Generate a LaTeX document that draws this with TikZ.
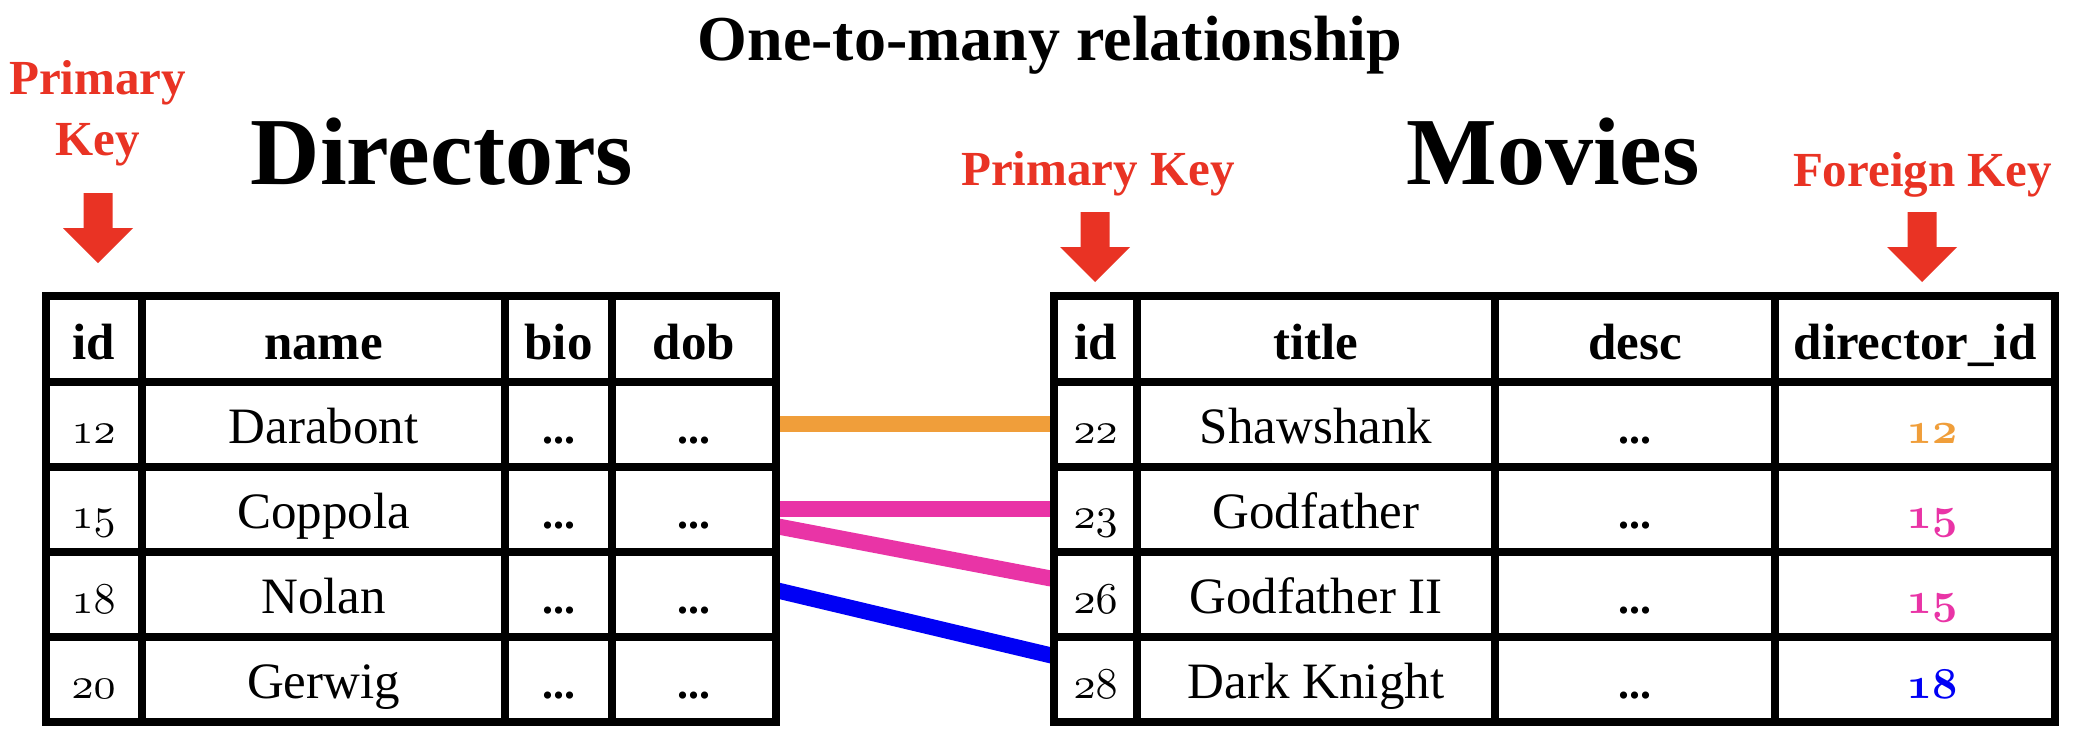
\documentclass[tikz,border=0pt]{standalone}
\usepackage{fontspec}
\setmainfont{Liberation Serif}
\definecolor{keyred}{RGB}{233,51,36}
\definecolor{lnorange}{RGB}{240,158,58}
\definecolor{lnpink}{RGB}{233,52,166}
\definecolor{lnblue}{RGB}{0,0,245}
\DeclareFontFamily{OML}{myosf}{\skewchar\font=127}
\DeclareFontShape{OML}{myosf}{m}{it}{<->cmmi10}{}
\DeclareFontShape{OML}{myosf}{b}{it}{<->cmmib10}{}
\newcommand\myosn[1]{{\usefont{OML}{myosf}{m}{it}#1}}
\newcommand\myosnb[1]{{\usefont{OML}{myosf}{b}{it}#1}}
\tikzset{
  karrow/.pic={\fill[keyred] (-14.5,0) -- (14.5,0) -- (14.5,35) -- (35,35) -- (0,70) -- (-35,35) -- (-14.5,35) -- cycle;}
}
\begin{document}
\begin{tikzpicture}[x=1pt,y=-1pt,
  every node/.style={inner sep=0pt, anchor=base},
  title/.style={font=\fontsize{64}{70}\selectfont\bfseries},
  tname/.style={font=\fontsize{96}{100}\selectfont\bfseries},
  keylbl/.style={font=\fontsize{49}{55}\selectfont\bfseries, text=keyred},
  head/.style={font=\fontsize{51}{56}\selectfont\bfseries},
  cell/.style={font=\fontsize{51}{56}\selectfont},
  num/.style={font=\fontsize{44}{50}\selectfont},
  dotsty/.style={font=\fontsize{44}{50}\selectfont\bfseries},
  gridline/.style={line width=8pt, black},
  link/.style={line width=16pt},
]
\fill[white] (0,0) rectangle (2080,752);
\useasboundingbox (0,0) rectangle (2080,752);

% title and table names
\node[title] (ttl) at (1050,60) {One-to-many relationship};
\node[tname] (dirs) at (442,184) {Directors};
\node[tname] (movs) at (1553,184) {Movies};

% key labels and arrows
\node[keylbl] (pk1a) at (97.5,94) {Primary};
\node[keylbl] (pk1b) at (97.5,155) {Key};
\node[keylbl] (pk2) at (1098,185) {Primary Key};
\node[keylbl] (fkl) at (1922.5,186) {Foreign Key};
\pic at (98,193) {karrow};
\pic at (1095,212) {karrow};
\pic at (1922,212) {karrow};

% connectors
\coordinate (l1) at (775.5,424); \coordinate (r1) at (1053.5,424);
\coordinate (l2) at (775.5,509); \coordinate (r2) at (1053.5,509);
\coordinate (l3) at (775.5,526); \coordinate (r3) at (1053.5,579);
\coordinate (l4) at (775.5,590); \coordinate (r4) at (1053.5,656);
\draw[link, lnorange] (l1) -- (r1);
\draw[link, lnpink] (l2) -- (r2);
\draw[link, lnpink] (l3) -- (r3);
\draw[link, lnblue] (l4) -- (r4);

% left table grid
\draw[gridline] (45.5,296) rectangle (775.5,722);
\foreach \x in {142,505,612} \draw[gridline] (\x,296) -- (\x,722);
\foreach \y in {382,467,552,637} \draw[gridline] (45.5,\y) -- (775.5,\y);
% right table grid
\draw[gridline] (1053.5,296) rectangle (2054.5,722);
\foreach \x in {1137,1495,1775} \draw[gridline] (\x,296) -- (\x,722);
\foreach \y in {382,467,552,637} \draw[gridline] (1053.5,\y) -- (2054.5,\y);

% headers
\node[head] (hdid) at (93.8,359) {id};
\node[head] (hdname) at (323.5,359) {name};
\node[head] (hdbio) at (558.5,359) {bio};
\node[head] (hddob) at (694,359) {dob};
\node[head] (hmid) at (1095.5,359) {id};
\node[head] (hmtitle) at (1316,359) {title};
\node[head] (hmdesc) at (1635,359) {desc};
\node[head] (hmdir) at (1915,359) {director\_id};

% left rows
\foreach \i/\n/\b in {12/Darabont/443, 15/Coppola/528, 18/Nolan/613, 20/Gerwig/698} {
  \node[num] (did\i) at (93.5,\b) {\myosn{\i}};
  \node[cell] (dname\i) at (323.5,\b) {\n};
  \node[dotsty] (dbio\i) at (558.5,\b) {...};
  \node[dotsty] (ddob\i) at (694,\b) {...};
}
% right rows
\foreach \i/\n/\d/\c/\b in {22/Shawshank/12/lnorange/443, 23/Godfather/15/lnpink/528, 26/Godfather II/15/lnpink/613, 28/Dark Knight/18/lnblue/698} {
  \node[num] (mid\i) at (1095.5,\b) {\myosn{\i}};
  \node[cell] (mtitle\i) at (1316,\b) {\n};
  \node[dotsty] (mdesc\i) at (1635,\b) {...};
  \node[num, text=\c] (mdir\i) at (1932,\b) {\myosnb{\d}};
}
\end{tikzpicture}
\end{document}
